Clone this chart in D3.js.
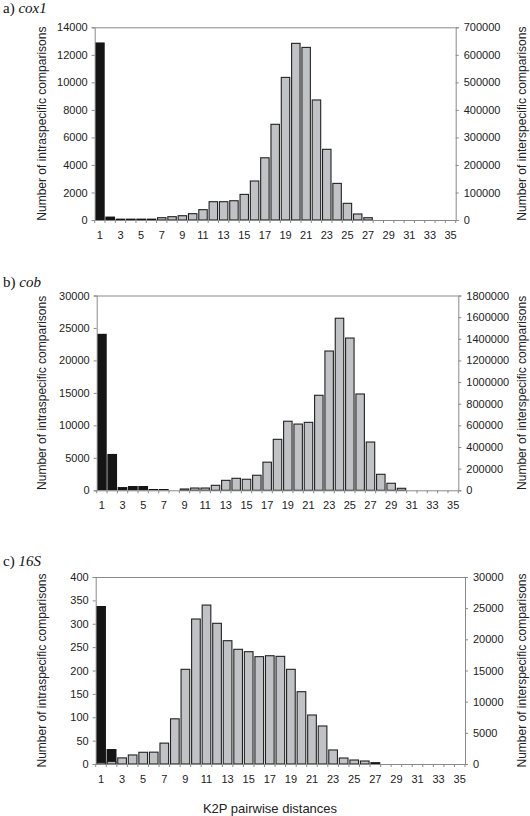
<!DOCTYPE html>
<html>
<head>
<meta charset="utf-8">
<script src="https://cdn.jsdelivr.net/npm/d3@7"></script>
<style>
  html, body { margin: 0; padding: 0; background: #fff; }
  svg { display: block; }
</style>
</head>
<body>
<script>
// ---------- DATA ----------
const categories = [1,2,3,4,5,6,7,8,9,10,11,12,13,14,15,16,17,18,19,20,21,22,23,24,25,26,27,28,29,30,31,32,33,34,35];
const xTickLabels = [1,3,5,7,9,11,13,15,17,19,21,23,25,27,29,31,33,35];

const cox1Intra = [12900,250,100,100,100,100,0,0,0,0,0,0,0,0,0,0,0,0,0,0,0,0,0,0,0,0,0,0,0,0,0,0,0,0,0];
const cox1Inter = [0,0,0,0,0,0,8400,12000,15600,23000,37500,66500,66500,70000,93000,141700,226000,347600,518000,641700,627000,436000,256800,133000,60600,21800,8400,0,0,0,0,0,0,0,0];
const cox1LeftTicks = [0,2000,4000,6000,8000,10000,12000,14000];
const cox1RightTicks = [0,100000,200000,300000,400000,500000,600000,700000];

const cobIntra = [24100,5600,500,660,660,200,200,0,0,0,0,0,0,0,0,0,0,0,0,0,0,0,0,0,0,0,0,0,0,0,0,0,0,0,0];
const cobInter = [0,0,0,0,0,0,0,0,12000,21000,21000,46000,92000,111000,102000,139000,260000,471000,638000,612000,628000,878000,1287000,1590000,1407000,890000,446000,148000,65000,18500,0,0,0,0,0];
const cobLeftTicks = [0,5000,10000,15000,20000,25000,30000];
const cobRightTicks = [0,200000,400000,600000,800000,1000000,1200000,1400000,1600000,1800000];

const s16Intra = [338,32,0,0,0,0,0,0,0,0,0,0,0,0,0,0,0,0,0,0,0,0,0,0,0,0,4,0,0,0,0,0,0,0,0];
const s16Inter = [250,400,980,1450,1880,1900,3350,7250,15190,23260,25500,22570,19780,18400,18020,17220,17370,17270,15190,11600,7860,6100,2250,960,640,480,0,0,0,0,0,0,0,0,0];
const s16LeftTicks = [0,50,100,150,200,250,300,350,400];
const s16RightTicks = [0,5000,10000,15000,20000,25000,30000];

const panelLabels = ["a) ","b) ","c) "];
const geneNames = ["cox1","cob","16S"];
const leftTitle = "Number of intraspecific comparisons";
const rightTitle = "Number of interspecific comparisons";
const xTitle = "K2P pairwise distances";

// ---------- LAYOUT ----------
const W = 530, H = 816;
const panels = [
  {label: panelLabels[0], gene: geneNames[0], intra: cox1Intra, inter: cox1Inter, lt: cox1LeftTicks, rt: cox1RightTicks,
   box: {l: 94.7, r: 455.7, t: 27.3, b: 220}, titleY: 13},
  {label: panelLabels[1], gene: geneNames[1], intra: cobIntra, inter: cobInter, lt: cobLeftTicks, rt: cobRightTicks,
   box: {l: 96.7, r: 458.3, t: 295.5, b: 490.3}, titleY: 287},
  {label: panelLabels[2], gene: geneNames[2], intra: s16Intra, inter: s16Inter, lt: s16LeftTicks, rt: s16RightTicks,
   box: {l: 95.7, r: 465, t: 577, b: 764}, titleY: 566}
];

const SANS = "'Liberation Sans', Arial, Helvetica, sans-serif";
const SERIF = "'Liberation Serif', 'Times New Roman', serif";
const AXIS_COLOR = "#8a8a8a";

const svg = d3.select("body").append("svg").attr("width", W).attr("height", H);

panels.forEach(p => {
  const {l, r, t, b} = p.box;
  const x = d3.scaleBand().domain(categories).range([l, r]).padding(0);
  const yL = d3.scaleLinear().domain([0, d3.max(p.lt)]).range([b, t]);
  const yR = d3.scaleLinear().domain([0, d3.max(p.rt)]).range([b, t]);
  const bw = x.bandwidth();
  const g = svg.append("g");

  // panel title
  const tt = g.append("text").attr("x", 3).attr("y", p.titleY)
    .attr("font-family", SERIF).attr("font-size", 15).attr("fill", "#111");
  tt.append("tspan").text(p.label);
  tt.append("tspan").attr("font-style", "italic").text(p.gene);

  // frame
  g.append("line").attr("x1", l).attr("x2", r).attr("y1", t + 0.5).attr("y2", t + 0.5)
    .attr("stroke", AXIS_COLOR).attr("stroke-width", 1);

  // intraspecific (black) bars
  g.append("g").selectAll("rect").data(categories)
    .join("rect")
    .attr("x", (c) => x(c) + 0.3)
    .attr("width", bw - 0.6)
    .attr("y", (c, i) => yL(p.intra[i]))
    .attr("height", (c, i) => b - yL(p.intra[i]))
    .attr("fill", "#151515");

  // interspecific (gray) bars
  const gw = bw * 0.82;
  g.append("g").selectAll("rect").data(categories.filter((c, i) => p.inter[i] > 0))
    .join("rect")
    .attr("x", (c) => x(c) + (bw - gw) / 2)
    .attr("width", gw)
    .attr("y", (c) => yR(p.inter[categories.indexOf(c)]))
    .attr("height", (c) => b - yR(p.inter[categories.indexOf(c)]))
    .attr("fill", "#c1c2c6")
    .attr("stroke", "#222")
    .attr("stroke-width", 1.1);

  // left axis
  const axL = g.append("g").attr("transform", `translate(${l},0)`)
    .call(d3.axisLeft(yL).tickValues(p.lt).tickSize(3).tickPadding(4).tickFormat(d3.format("d")));
  // right axis
  const axR = g.append("g").attr("transform", `translate(${r},0)`)
    .call(d3.axisRight(yR).tickValues(p.rt).tickSize(3).tickPadding(5).tickFormat(d3.format("d")));
  // bottom axis (labels on odd categories)
  const axB = g.append("g").attr("transform", `translate(0,${b})`)
    .call(d3.axisBottom(x).tickValues(xTickLabels).tickSize(0).tickPadding(11));
  // boundary ticks
  g.append("g").selectAll("line").data(categories.concat([null]))
    .join("line")
    .attr("x1", (c) => c === null ? r : x(c))
    .attr("x2", (c) => c === null ? r : x(c))
    .attr("y1", b).attr("y2", b + 3)
    .attr("stroke", AXIS_COLOR);

  [axL, axR, axB].forEach(ax => {
    ax.selectAll(".domain").attr("stroke", AXIS_COLOR);
    ax.selectAll(".tick line").attr("stroke", AXIS_COLOR);
    ax.selectAll("text").attr("font-family", SANS).attr("font-size", 11).attr("fill", "#222");
  });

  // axis titles
  const cy = (t + b) / 2;
  g.append("text").attr("transform", `translate(41.7,${cy}) rotate(-90)`)
    .attr("text-anchor", "middle").attr("dy", "0.35em")
    .attr("font-family", SANS).attr("font-size", 12).attr("fill", "#222").text(leftTitle);
  g.append("text").attr("transform", `translate(521.7,${cy}) rotate(-90)`)
    .attr("text-anchor", "middle").attr("dy", "0.35em")
    .attr("font-family", SANS).attr("font-size", 12).attr("fill", "#222").text(rightTitle);
});

svg.append("text").attr("x", 270).attr("y", 808).attr("dy", "0.35em")
  .attr("text-anchor", "middle").attr("font-family", SANS).attr("font-size", 13)
  .attr("fill", "#222").text(xTitle);
</script>
</body>
</html>
